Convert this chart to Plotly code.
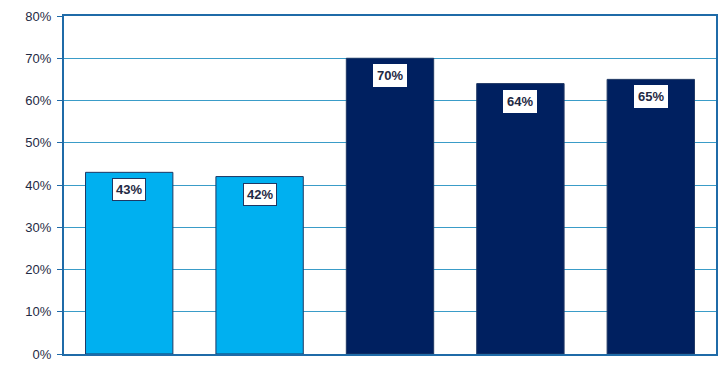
import plotly.graph_objects as go

categories = ["A", "B", "C", "D", "E"]
values = [43, 42, 70, 64, 65]
bar_colors = ["#00B0F0", "#00B0F0", "#002060", "#002060", "#002060"]
label_borders = ["#1F3864", "#1F3864", "#FFFFFF", "#FFFFFF", "#FFFFFF"]
y_ticks = [0, 10, 20, 30, 40, 50, 60, 70, 80]
y_tick_labels = ["0%", "10%", "20%", "30%", "40%", "50%", "60%", "70%", "80%"]

fig = go.Figure()
fig.add_trace(go.Bar(
    x=categories, y=values,
    marker=dict(color=bar_colors, line=dict(color="#1F3864", width=1)),
    hoverinfo="skip",
))

for c, v, bc in zip(categories, values, label_borders):
    fig.add_annotation(
        x=c, y=v, text=f"<b>{v}%</b>", showarrow=False,
        yanchor="top", yshift=-6,
        font=dict(family="Arial, Liberation Sans", size=13, color="#1F2A44"),
        bgcolor="#FFFFFF", bordercolor=bc, borderwidth=1, borderpad=3,
    )

fig.update_layout(
    width=719, height=365,
    margin=dict(l=56, r=11, t=8, b=19, autoexpand=False),
    paper_bgcolor="#FFFFFF", plot_bgcolor="#FFFFFF",
    bargap=0.33, showlegend=False,
    xaxis=dict(showticklabels=False, showgrid=False, ticks="",
               showline=True, linecolor="#1F6BA8", linewidth=2, mirror=True,
               range=[-0.5, 4.5], automargin=False),
    yaxis=dict(range=[0, 80], tickvals=y_ticks, ticktext=y_tick_labels,
               showgrid=True, gridcolor="#3A9CC8", gridwidth=1,
               showline=True, linecolor="#1F6BA8", linewidth=2, mirror=True,
               ticks="outside", ticklen=5, tickcolor="#1F6BA8",
               ticklabelstandoff=3, automargin=False,
               tickfont=dict(family="Arial, Liberation Sans", size=13, color="#1F2A44"),
               zeroline=False),
)

fig.write_html("out.html")
